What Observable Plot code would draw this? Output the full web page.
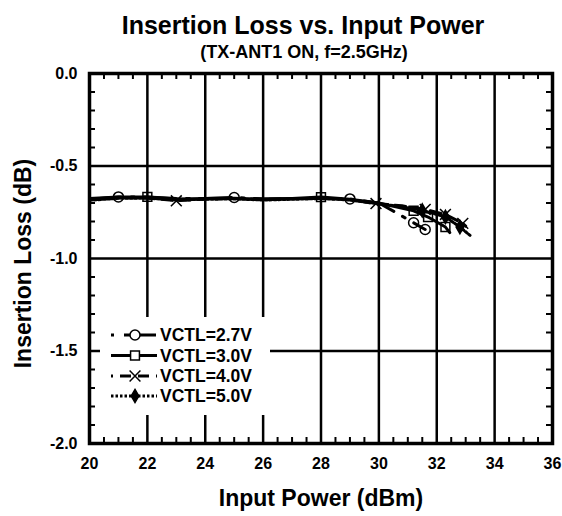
<!DOCTYPE html>
<html><head><meta charset="utf-8">
<script src="https://cdn.jsdelivr.net/npm/d3@7"></script>
<script src="https://cdn.jsdelivr.net/npm/@observablehq/plot@0.6"></script>
<style>body{margin:0;background:#fff}#chart{width:562px;height:516px}</style>
</head><body><div id="chart"></div>
<script>
const titleText = "Insertion Loss vs. Input Power";
const subtitleText = "(TX-ANT1 ON, f=2.5GHz)";
const xLabel = "Input Power (dBm)";
const yLabel = "Insertion Loss (dB)";
const xTicks = [20,22,24,26,28,30,32,34,36];
const yTicks = [0,-0.5,-1.0,-1.5,-2.0];
const xGrid = [22,24,26,28,30,32,34];
const yGrid = [-0.5,-1.0,-1.5];
const xMinor = d3.range(20.5,36,0.5).filter(v => v % 2 !== 0);
const yMinor = d3.range(1,20).filter(v => v % 5 !== 0).map(v => -v/10);

const seriesNames = ["VCTL=2.7V","VCTL=3.0V","VCTL=4.0V","VCTL=5.0V"];
const x27 = [20,21,22,23,24,25,26,27,28,29,30,30.55,31.2,31.6];
const y27 = [-0.680,-0.667,-0.668,-0.676,-0.675,-0.670,-0.678,-0.676,-0.674,-0.678,-0.700,-0.748,-0.807,-0.843];
const m27x = [21,25,29,31.2,31.6];
const m27y = [-0.667,-0.670,-0.678,-0.807,-0.843];
const x30 = [20,21,22,23,24,25,26,27,28,29,30,30.7,31.2,31.7,32.3,32.45];
const y30 = [-0.675,-0.668,-0.667,-0.678,-0.676,-0.674,-0.679,-0.675,-0.668,-0.680,-0.700,-0.725,-0.742,-0.776,-0.830,-0.860];
const m30x = [22,28,31.2,31.7,32.3];
const m30y = [-0.667,-0.668,-0.742,-0.776,-0.830];
const x40 = [20,21,22,23,24,25,26,27,28,29,29.9,30.8,31.6,32.3,32.9,33.0];
const y40 = [-0.680,-0.672,-0.672,-0.688,-0.678,-0.675,-0.680,-0.677,-0.673,-0.682,-0.703,-0.715,-0.735,-0.762,-0.810,-0.825];
const m40x = [23,29.9,31.6,32.3,32.9];
const m40y = [-0.688,-0.703,-0.735,-0.762,-0.810];
const x50 = [20,21,22,23,24,25,26,27,28,29,30,30.8,31.5,32.3,32.8,33.15];
const y50 = [-0.685,-0.675,-0.674,-0.684,-0.680,-0.678,-0.684,-0.680,-0.676,-0.684,-0.705,-0.720,-0.740,-0.775,-0.830,-0.875];
const m50x = [31.5,32.3,32.8];
const m50y = [-0.740,-0.775,-0.830];

const zip = (xs, ys) => xs.map((x,i) => ({x, y: ys[i]}));
const styles = [
  {dash: "32,10,3,10", symbol: "circle", fill: "none", r: 5},
  {dash: null, symbol: "square", fill: "none", r: 5},
  {dash: "11,7", symbol: "times", fill: "none", r: 5},
  {dash: "2.5,2", symbol: "diamond", fill: "black", r: 4}
];
const lines = [zip(x27,y27), zip(x30,y30), zip(x40,y40), zip(x50,y50)];
const markers = [zip(m27x,m27y), zip(m30x,m30y), zip(m40x,m40y), zip(m50x,m50y)];

const W = 562, H = 516, mL = 89, mR = 10, mT = 73, mB = 73;
const frameH = H - mT - mB;
const frameW = W - mL - mR;
const font = "'Liberation Sans', Arial, Helvetica, sans-serif";

const marks = [
  Plot.ruleX(xGrid, {stroke: "black", strokeWidth: 2.5}),
  Plot.ruleY(yGrid, {stroke: "black", strokeWidth: 2.5}),
  Plot.tickX(xMinor, {x: d => d, insetTop: frameH - 6, strokeWidth: 2}),
  Plot.tickX(xMinor, {x: d => d, insetBottom: frameH - 6, strokeWidth: 2}),
  Plot.tickY(yMinor, {y: d => d, insetRight: frameW - 6, strokeWidth: 2}),
  Plot.tickY(yMinor, {y: d => d, insetLeft: frameW - 6, strokeWidth: 2}),
  Plot.frame({stroke: "black", strokeWidth: 3.5}),
  Plot.axisX({ticks: xTicks, tickSize: 0, tickPadding: 14, fontSize: 16, fontWeight: "bold", tickFormat: d => String(d), label: null}),
  Plot.axisY({ticks: yTicks, tickSize: 0, tickPadding: 12, fontSize: 16, fontWeight: "bold", tickFormat: d => d.toFixed(1), label: null})
];
lines.forEach((data, i) => {
  marks.push(Plot.line(data, {x: "x", y: "y", stroke: "black", strokeWidth: 3, strokeDasharray: styles[i].dash}));
});
markers.forEach((data, i) => {
  marks.push(Plot.dot(data, {x: "x", y: "y", symbol: styles[i].symbol, r: styles[i].r, stroke: "black", strokeWidth: 1.5, fill: styles[i].fill}));
});
marks.push(
  Plot.text([titleText], {frameAnchor: "top", dx: -18, dy: -40, lineAnchor: "bottom", textAnchor: "middle", fontSize: 25, fontWeight: "bold"}),
  Plot.text([subtitleText], {frameAnchor: "top", dx: -17, dy: -16, lineAnchor: "bottom", textAnchor: "middle", fontSize: 18, fontWeight: "bold", letterSpacing: "1.4px"}),
  Plot.text([xLabel], {frameAnchor: "bottom", dy: 62, lineAnchor: "bottom", textAnchor: "middle", fontSize: 23, fontWeight: "bold"}),
  Plot.text([yLabel], {frameAnchor: "left", dx: -59, dy: 5, rotate: -90, lineAnchor: "bottom", textAnchor: "middle", fontSize: 23, fontWeight: "bold"})
);

const svg = Plot.plot({
  width: W, height: H,
  marginLeft: mL, marginRight: mR, marginTop: mT, marginBottom: mB,
  x: {domain: [20, 36]},
  y: {domain: [-2, 0]},
  style: {fontFamily: font, fontWeight: "bold", background: "white", color: "black"},
  marks
});
document.getElementById("chart").appendChild(svg);

// legend inside plot area
const g = d3.select(svg).append("g").attr("font-family", font).attr("font-weight", "bold");
g.append("rect").attr("x", 100).attr("y", 317).attr("width", 170).attr("height", 98).attr("fill", "white");
const rowY = [335, 355.5, 376, 396];
seriesNames.forEach((name, i) => {
  const y = rowY[i];
  const st = styles[i];
  g.append("line").attr("x1", 111).attr("x2", 157).attr("y1", y).attr("y2", y)
    .attr("stroke", "black").attr("stroke-width", 3)
    .attr("stroke-dasharray", st.dash)
    .attr("stroke-dashoffset", i === 0 ? 42 : (i === 2 ? -9 : 0));
  const sym = {circle: d3.symbolCircle, square: d3.symbolSquare, times: d3.symbolTimes, diamond: d3.symbolDiamond}[st.symbol];
  g.append("path").attr("d", d3.symbol(sym, st.r * st.r * Math.PI)())
    .attr("transform", `translate(135,${y})`)
    .attr("fill", st.fill === "none" ? "white" : st.fill)
    .attr("stroke", "black").attr("stroke-width", 1.5);
  g.append("text").attr("x", 160).attr("y", y).attr("dy", "0.36em")
    .attr("text-anchor", "start")
    .attr("font-size", 17.5).text(name);
});
</script></body></html>
